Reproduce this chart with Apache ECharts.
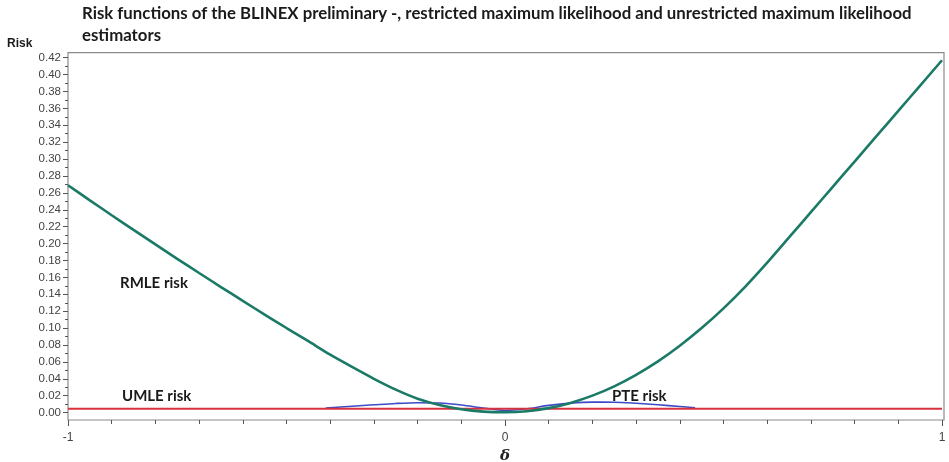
<!DOCTYPE html>
<html>
<head>
<meta charset="utf-8">
<script src="https://cdn.jsdelivr.net/npm/echarts@6/dist/echarts.min.js"></script>
<style>
  html, body { margin: 0; padding: 0; background: #fff; }
  #chart { width: 949px; height: 462px; }
</style>
</head>
<body>
<div id="chart"></div>
<script>
// δ grid for the RMLE risk curve
const delta = [-1.00, -0.95, -0.90, -0.85, -0.80, -0.75, -0.70, -0.65, -0.60, -0.55,
               -0.50, -0.45, -0.40, -0.35, -0.30, -0.25, -0.20, -0.15, -0.10, -0.05,
                0.00,  0.05,  0.10,  0.15,  0.20,  0.25,  0.30,  0.35,  0.40,  0.45,
                0.50,  0.55,  0.60,  0.65,  0.70,  0.75,  0.80,  0.85,  0.90,  0.95, 1.00];
const rmleRisk = [0.2690, 0.2512, 0.2336, 0.2162, 0.1990, 0.1820, 0.1652, 0.1486, 0.1322, 0.1160,
                  0.1001, 0.0845, 0.0685, 0.0540, 0.0400, 0.0272, 0.0165, 0.0090, 0.0040, 0.0012,
                  0.0004, 0.0016, 0.0053, 0.0115, 0.0201, 0.0311, 0.0447, 0.0606, 0.0791, 0.1000,
                  0.1233, 0.1491, 0.1774, 0.2073, 0.2372, 0.2672, 0.2971, 0.3271, 0.3570, 0.3870, 0.4170];

// PTE risk, drawn where it separates from the UMLE risk
const pteDelta = [-0.41, -0.35, -0.30, -0.25, -0.20, -0.15, -0.10, -0.05, 0.00,
                   0.05,  0.10,  0.15,  0.20,  0.25,  0.30,  0.35,  0.40, 0.435];
const pteRisk = [0.0055, 0.0075, 0.0092, 0.0108, 0.0117, 0.0113, 0.0090, 0.0055, 0.0025,
                 0.0045, 0.0085, 0.0112, 0.0124, 0.0123, 0.0110, 0.0092, 0.0072, 0.0058];

// UMLE risk is constant in δ
const umleDelta = [-1, 1];
const umleRisk = [0.0045, 0.0045];

// Axis ticks
const xTicks = [-1, 0, 1];
const yMin = 0, yMax = 0.42, yStep = 0.02;

const zip = (xs, ys) => xs.map((x, i) => [x, ys[i]]);

const chart = echarts.init(document.getElementById('chart'), null, { renderer: 'canvas' });

const labelFont = '"Liberation Sans", Arial, sans-serif';
const boldFont = 'Lato, "Open Sans", sans-serif';

chart.setOption({
  animation: false,
  backgroundColor: '#ffffff',
  title: {
    text: 'Risk functions of the BLINEX preliminary -, restricted maximum likelihood and unrestricted maximum likelihood\nestimators',
    left: 77, top: -2,
    textStyle: { fontFamily: boldFont, fontWeight: 'bold', fontSize: 16.8, color: '#1a1a1a', lineHeight: 22 }
  },
  grid: [
    // outer frame
    { left: 68, right: 5, top: 52.7, bottom: 42, outerBoundsMode: 'none', containLabel: false,
      show: true, borderColor: '#8c8c8c', borderWidth: 1.2, backgroundColor: 'transparent' },
    // data area
    { left: 68, right: 7, top: 57.7, bottom: 49.4, outerBoundsMode: 'none', containLabel: false }
  ],
  xAxis: [
    { gridIndex: 0, type: 'value', min: 0, max: 1, show: false },
    {
      gridIndex: 1, type: 'value', min: -1, max: 1, interval: 1, offset: 7.4,
      axisLine: { show: false, onZero: false },
      axisTick: { show: true, length: 6, lineStyle: { color: '#555', width: 1 } },
      minorTick: { show: true, splitNumber: 10, length: 4, lineStyle: { color: '#555', width: 1 } },
      splitLine: { show: false }, minorSplitLine: { show: false },
      axisLabel: {
        margin: 12, fontFamily: labelFont, fontSize: 12, color: '#444',
        formatter: v => (xTicks.includes(v) ? String(v) : '')
      },
      name: 'δ', nameLocation: 'middle', nameGap: 27,
      nameTextStyle: { fontFamily: '"DejaVu Serif", "Liberation Serif", serif', fontStyle: 'italic', fontWeight: 'bold', fontSize: 15, color: '#222' }
    }
  ],
  yAxis: [
    { gridIndex: 0, type: 'value', min: 0, max: 1, show: false },
    {
      gridIndex: 1, type: 'value', min: yMin, max: yMax, interval: yStep,
      axisLine: { show: false, onZero: false },
      axisTick: { show: true, length: 5, lineStyle: { color: '#555', width: 1 } },
      minorTick: { show: true, splitNumber: 2, length: 3, lineStyle: { color: '#555', width: 1 } },
      splitLine: { show: false }, minorSplitLine: { show: false },
      axisLabel: { margin: 7, fontFamily: labelFont, fontSize: 11.5, color: '#444', formatter: v => v.toFixed(2) }
    }
  ],
  graphic: [
    { type: 'text', left: 7, top: 38, style: { text: 'Risk', font: 'bold 12px ' + labelFont, fill: '#1a1a1a' } },
    { type: 'text', left: 120, top: 276, style: { text: 'RMLE risk', font: 'bold 15px ' + boldFont, fill: '#1a1a1a' } },
    { type: 'text', left: 122, top: 389, style: { text: 'UMLE risk', font: 'bold 15px ' + boldFont, fill: '#1a1a1a' } },
    { type: 'text', left: 612, top: 389, style: { text: 'PTE risk', font: 'bold 15px ' + boldFont, fill: '#1a1a1a' } }
  ],
  series: [
    {
      name: 'PTE risk', type: 'line', xAxisIndex: 1, yAxisIndex: 1,
      data: zip(pteDelta, pteRisk), showSymbol: false, smooth: 0.3,
      lineStyle: { color: '#3c4bc6', width: 1.6 }, z: 2
    },
    {
      name: 'UMLE risk', type: 'line', xAxisIndex: 1, yAxisIndex: 1,
      data: zip(umleDelta, umleRisk), showSymbol: false,
      lineStyle: { color: '#d8323f', width: 2 }, z: 3
    },
    {
      name: 'RMLE risk', type: 'line', xAxisIndex: 1, yAxisIndex: 1,
      data: zip(delta, rmleRisk), showSymbol: false, smooth: 0.2,
      lineStyle: { color: '#1a7a66', width: 2.6 }, z: 4
    }
  ]
});
</script>
</body>
</html>
